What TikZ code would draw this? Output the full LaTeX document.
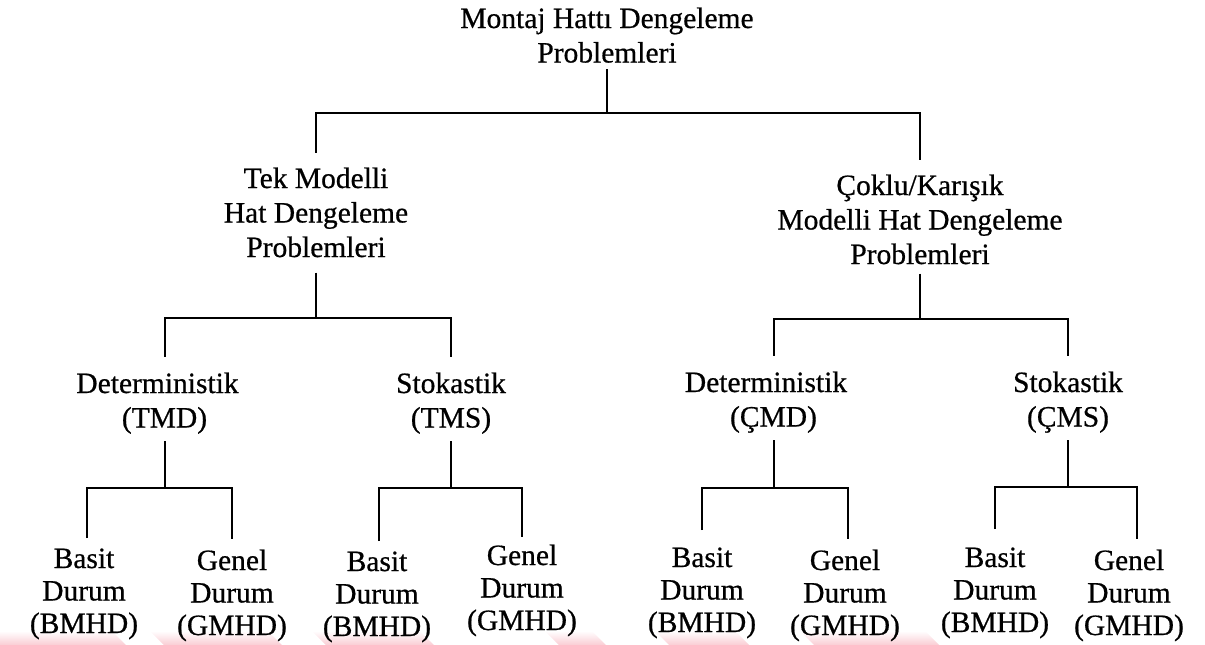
\documentclass[tikz,border=0pt]{standalone}
\usepackage{fontspec}
\setmainfont{Liberation Serif}[FakeBold=0.6]
\definecolor{wmpink}{RGB}{250,205,212}
% stacked, centred rows; the node's base is the first row's baseline
\newcommand{\labelrows}[1]{\begin{tabular}[t]{@{}c@{}}#1\end{tabular}}
\begin{document}
\begin{tikzpicture}[x=1pt,y=-1pt,
  lbl/.style={inner sep=0pt, anchor=base, font=\fontsize{29.5}{34.5}\selectfont},
  leaf/.style={inner sep=0pt, anchor=base, font=\fontsize{29.5}{32.5}\selectfont},
  conn/.style={line width=2pt, black},
  band/.style={top color=white, bottom color=wmpink, draw=none}]
\useasboundingbox (0,0) rectangle (1205,645);

% faint coloured strip along the lower edge
\shade[band] (0,631) -- (112,631) -- (126,645) -- (0,645) -- cycle;
\shade[band] (150,631) -- (268,631) -- (282,645) -- (164,645) -- cycle;
\shade[band] (312,631) -- (420,631) -- (434,645) -- (326,645) -- cycle;
\shade[band] (545,631) -- (592,631) -- (606,645) -- (559,645) -- cycle;
\shade[band] (655,631) -- (735,631) -- (749,645) -- (669,645) -- cycle;
\shade[band] (800,631) -- (925,631) -- (939,645) -- (814,645) -- cycle;

% level 0
\node[lbl] (top) at (607,28) {\labelrows{Montaj Hattı Dengeleme\\Problemleri}};

% level 1
\node[lbl] (tek) at (316,188) {\labelrows{Tek Modelli\\Hat Dengeleme\\Problemleri}};
\node[lbl] (coklu) at (920,195) {\labelrows{Çoklu/Karışık\\Modelli Hat Dengeleme\\Problemleri}};

% level 2
\node[lbl] (tmd) at (164.5,393) {\labelrows{Deterministik\hspace*{14pt}\\(TMD)}};
\node[lbl] (tms) at (451,393) {\labelrows{Stokastik\\(TMS)}};
\node[lbl] (cmd) at (773.5,392) {\labelrows{Deterministik\hspace*{15pt}\\(ÇMD)}};
\node[lbl] (cms) at (1068,392) {\labelrows{Stokastik\\(ÇMS)}};

% level 3
\node[leaf] (tmdb) at (84,568) {\labelrows{Basit\\Durum\\(BMHD)}};
\node[leaf] (tmdg) at (232,570) {\labelrows{Genel\\Durum\\(GMHD)}};
\node[leaf] (tmsb) at (377,571) {\labelrows{Basit\\Durum\\(BMHD)}};
\node[leaf] (tmsg) at (522,565) {\labelrows{Genel\\Durum\\(GMHD)}};
\node[leaf] (cmdb) at (702,567) {\labelrows{Basit\\Durum\\(BMHD)}};
\node[leaf] (cmdg) at (845,570) {\labelrows{Genel\\Durum\\(GMHD)}};
\node[leaf] (cmsb) at (995,567) {\labelrows{Basit\\Durum\\(BMHD)}};
\node[leaf] (cmsg) at (1129,570) {\labelrows{Genel\\Durum\\(GMHD)}};

% branch points
\coordinate (j0) at (607,113);
\coordinate (j1) at (316,318);
\coordinate (j2) at (920,319);
\coordinate (j3) at (164.5,488);
\coordinate (j4) at (451,488);
\coordinate (j5) at (773.5,488);
\coordinate (j6) at (1068,487);

% connectors
\draw[conn] ([yshift=4pt]top.south) -- (j0);
\draw[conn] ([yshift=11pt]tek.north) |- (j0) -| ([yshift=11pt]coklu.north);

\draw[conn] ([yshift=-5pt]tek.south) -- (j1);
\draw[conn] ([yshift=12pt]tmd.north) |- (j1) -| ([yshift=12pt]tms.north);

\draw[conn] ([yshift=1pt]coklu.south) -- (j2);
\draw[conn] ([yshift=12pt]cmd.north) |- (j2) -| ([yshift=12pt]cms.north);

\draw[conn] ([yshift=-3pt]tmd.south) -- (j3);
\draw[conn] ([xshift=3pt,yshift=7pt]tmdb.north) |- (j3) -| ([yshift=8pt]tmdg.north);

\draw[conn] ([yshift=-3pt]tms.south) -- (j4);
\draw[conn] ([xshift=2pt,yshift=7pt]tmsb.north) |- (j4) -| ([yshift=5pt]tmsg.north);

\draw[conn] ([yshift=-3pt]cmd.south) -- (j5);
\draw[conn] ([yshift=14pt]cmdb.north) |- (j5) -| ([xshift=3pt,yshift=8pt]cmdg.north);

\draw[conn] ([yshift=-3pt]cms.south) -- (j6);
\draw[conn] ([yshift=15pt]cmsb.north) |- (j6) -| ([xshift=8pt,yshift=8pt]cmsg.north);
\end{tikzpicture}
\end{document}
